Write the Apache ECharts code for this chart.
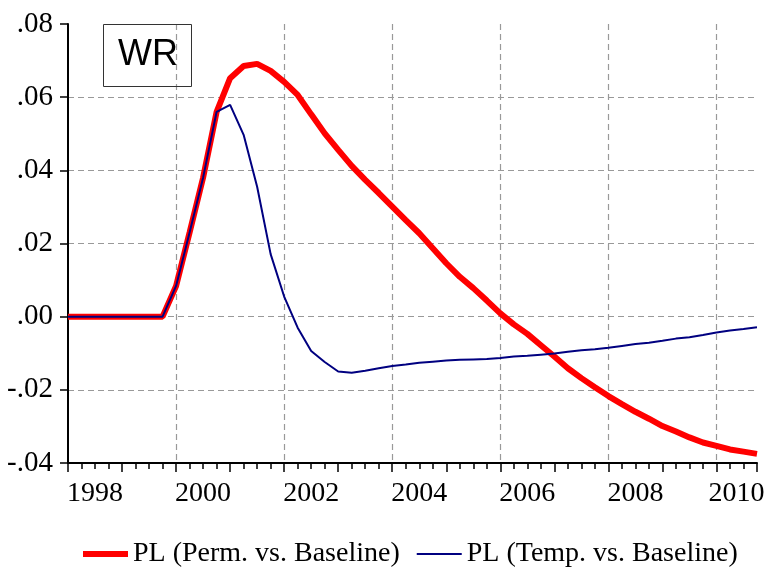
<!DOCTYPE html>
<html>
<head>
<meta charset="utf-8">
<script src="https://cdn.jsdelivr.net/npm/echarts@6/dist/echarts.min.js"></script>
<style>
html,body{margin:0;padding:0;background:#fff;}
#chart{width:776px;height:568px;}
</style>
</head>
<body>
<div id="chart"></div>
<script>
// Quarterly sample: 1998Q1 .. 2010Q4
var startYear = 1998;
var nQuarters = 52;
var seriesNames = ['PL (Perm. vs. Baseline)', 'PL (Temp. vs. Baseline)'];
var yTicks = [-0.04, -0.02, 0.00, 0.02, 0.04, 0.06, 0.08];
var xLabelYears = [1998, 2000, 2002, 2004, 2006, 2008, 2010];

var permValues = [
  0, 0, 0, 0, 0, 0, 0, 0,
  0.0084, 0.023, 0.038, 0.056,
  0.0652, 0.0685, 0.0691, 0.0672,
  0.0642, 0.0606, 0.0553, 0.0501,
  0.0456, 0.0412, 0.0374, 0.0338,
  0.0301, 0.0264, 0.0228, 0.0187,
  0.0146, 0.0109, 0.0078, 0.0044,
  0.0009, -0.0021, -0.0047, -0.0078,
  -0.0109, -0.0141, -0.0168, -0.0193,
  -0.0217, -0.0239, -0.026, -0.0279,
  -0.0299, -0.0314, -0.033, -0.0344,
  -0.0353, -0.0363, -0.0369, -0.0375
];
var tempValues = [
  0, 0, 0, 0, 0, 0, 0, 0,
  0.0084, 0.023, 0.038, 0.056,
  0.0579, 0.0497, 0.0355, 0.0171,
  0.0055, -0.003, -0.0094, -0.0124,
  -0.015, -0.0153, -0.0148, -0.0141,
  -0.0135, -0.0131, -0.0126, -0.0123,
  -0.012, -0.0118, -0.0117, -0.0116,
  -0.0113, -0.0109, -0.0107, -0.0104,
  -0.0101, -0.0096, -0.0092, -0.0089,
  -0.0085, -0.008, -0.0075, -0.0071,
  -0.0066, -0.006, -0.0056, -0.005,
  -0.0043, -0.0038, -0.0034, -0.0029
];

var quarters = [];
for (var i = 0; i < nQuarters; i++) quarters.push(startYear + i * 0.25);
function pairs(vals) { return vals.map(function (v, i) { return [quarters[i], v]; }); }

var xMin = quarters[0];
var xMax = quarters[quarters.length - 1];
var serif = 'Liberation Serif, Times New Roman, serif';
var lastLabelYear = xLabelYears[xLabelYears.length - 1];

var chart = echarts.init(document.getElementById('chart'), null, {renderer: 'canvas'});
chart.setOption({
  animation: false,
  backgroundColor: '#fff',
  title: {
    text: 'WR',
    left: 103, top: 24,
    borderColor: '#333', borderWidth: 1,
    padding: [13, 14, 14, 15],
    textStyle: {fontFamily: 'Liberation Sans, Arial, sans-serif', fontSize: 36, fontWeight: 'normal', color: '#000'}
  },
  legend: {
    left: 80, top: 540, padding: 0,
    itemWidth: 45, itemHeight: 14, itemGap: 16,
    itemStyle: {opacity: 0},
    textStyle: {fontFamily: serif, fontSize: 28, color: '#000'},
    data: [
      {name: seriesNames[0], lineStyle: {color: '#ff0000', width: 6}, itemStyle: {opacity: 0}},
      {name: seriesNames[1], lineStyle: {color: '#000080', width: 2}, itemStyle: {opacity: 0}}
    ]
  },
  grid: {left: 68, right: 19, top: 24, bottom: 105, containLabel: false, outerBoundsMode: 'none'},
  xAxis: [
    {
      type: 'value', position: 'bottom', min: xMin, max: xMax, interval: 0.25,
      axisLine: {show: true, onZero: false, lineStyle: {color: '#000', width: 2}},
      axisTick: {show: true, length: 6, lineStyle: {color: '#000', width: 1.5}},
      splitLine: {show: false},
      axisLabel: {
        show: true, margin: 17,
        fontFamily: serif, fontSize: 28, color: '#000',
        rich: {last: {fontFamily: serif, fontSize: 28, color: '#000', padding: [0, 14, 0, 0]}},
        formatter: function (v) {
          var r = v - 0.5;
          var yr = Math.round(r);
          if (Math.abs(r - yr) < 1e-6 && xLabelYears.indexOf(yr) >= 0) {
            return yr === lastLabelYear ? '{last|' + yr + '}' : String(yr);
          }
          return '';
        }
      }
    },
    {
      type: 'value', position: 'bottom', min: xMin, max: xMax, interval: 1,
      axisLine: {show: false, onZero: false},
      axisTick: {show: true, length: 9, lineStyle: {color: '#000', width: 1.5}},
      axisLabel: {show: false},
      splitLine: {show: false}
    },
    {
      type: 'value', position: 'bottom', min: xMin, max: xMax, interval: 2,
      axisLine: {show: false, onZero: false},
      axisTick: {show: false},
      axisLabel: {show: false},
      splitLine: {show: true, showMinLine: false, showMaxLine: false,
        lineStyle: {color: '#999', width: 1.2, type: [6, 4]}}
    }
  ],
  yAxis: {
    type: 'value', min: yTicks[0], max: yTicks[yTicks.length - 1], interval: 0.02,
    axisLine: {show: true, onZero: false, lineStyle: {color: '#000', width: 2}},
    axisTick: {show: true, length: 8, lineStyle: {color: '#000', width: 1.5}},
    axisLabel: {
      margin: 15, fontFamily: serif, fontSize: 29, color: '#000',
      formatter: function (v) { return v.toFixed(2).replace('0.', '.'); }
    },
    splitLine: {show: true, showMinLine: false, showMaxLine: false,
      lineStyle: {color: '#999', width: 1.2, type: [6, 4]}}
  },
  series: [
    {
      name: seriesNames[0], type: 'line', xAxisIndex: 0, showSymbol: false, symbol: 'none',
      data: pairs(permValues),
      lineStyle: {color: '#ff0000', width: 6}, itemStyle: {color: '#ff0000'}, z: 3
    },
    {
      name: seriesNames[1], type: 'line', xAxisIndex: 0, showSymbol: false, symbol: 'none',
      data: pairs(tempValues),
      lineStyle: {color: '#000080', width: 2}, itemStyle: {color: '#000080'}, z: 4
    }
  ]
});
</script>
</body>
</html>
